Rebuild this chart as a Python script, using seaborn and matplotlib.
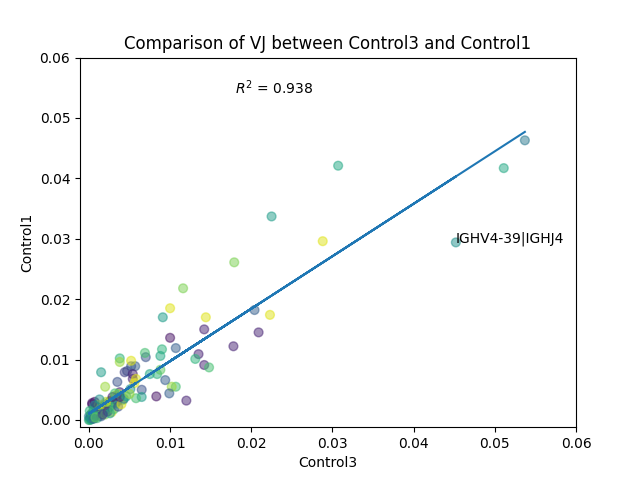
import numpy as np
import pandas as pd
import seaborn as sns
import matplotlib
matplotlib.use("Agg")
import matplotlib.pyplot as plt

# VJ usage frequencies (Control3 on x, Control1 on y)
control3 = [
    0.0537, 0.0511, 0.0307, 0.0225, 0.0288, 0.0452, 0.0179, 0.0116, 0.0204, 0.0223,
    0.0100, 0.0144, 0.0091, 0.0142, 0.0209, 0.0178, 0.0100, 0.0107, 0.0090, 0.0135,
    0.0142, 0.0148, 0.0131, 0.0107, 0.0102, 0.0120, 0.0099, 0.0083, 0.0094, 0.0088,
    0.0070, 0.0069, 0.0075, 0.0084, 0.0088, 0.0065, 0.0065, 0.0052, 0.0057, 0.0052,
    0.0038, 0.0038, 0.0015, 0.0047, 0.0044, 0.0054, 0.0054, 0.0056, 0.0058, 0.0051,
    0.0058, 0.0035, 0.0020, 0.0032, 0.0038, 0.0036, 0.0042, 0.0026, 0.0007, 0.0004,
    0.0014, 0.0023, 0.0028, 0.0016,
    0.0001, 0.0002, 0.0003, 0.0000, 0.0001, 0.0004, 0.0005, 0.0002, 0.0006, 0.0008,
    0.0007, 0.0010, 0.0009, 0.0012, 0.0011, 0.0014, 0.0013, 0.0016, 0.0018, 0.0015,
    0.0020, 0.0022, 0.0019, 0.0025, 0.0024, 0.0028, 0.0030, 0.0027, 0.0033, 0.0035,
    0.0003, 0.0005, 0.0002, 0.0006, 0.0009, 0.0012, 0.0004, 0.0007, 0.0010, 0.0015,
    0.0020, 0.0023, 0.0026, 0.0031, 0.0036, 0.0040, 0.0043, 0.0038, 0.0046, 0.0050,
    0.0000, 0.0001, 0.0003, 0.0006, 0.0008, 0.0017, 0.0021, 0.0013, 0.0029, 0.0032,
]
control1 = [
    0.0463, 0.0417, 0.0421, 0.0337, 0.0296, 0.0294, 0.0261, 0.0218, 0.0182, 0.0174,
    0.0185, 0.0170, 0.0170, 0.0150, 0.0145, 0.0122, 0.0136, 0.0119, 0.0117, 0.0109,
    0.0091, 0.0087, 0.0101, 0.0055, 0.0055, 0.0032, 0.0044, 0.0039, 0.0066, 0.0106,
    0.0104, 0.0111, 0.0076, 0.0076, 0.0083, 0.0050, 0.0038, 0.0089, 0.0089, 0.0098,
    0.0102, 0.0096, 0.0079, 0.0081, 0.0079, 0.0076, 0.0068, 0.0061, 0.0068, 0.0051,
    0.0036, 0.0063, 0.0055, 0.0040, 0.0046, 0.0043, 0.0033, 0.0031, 0.0030, 0.0026,
    0.0021, 0.0018, 0.0013, 0.0010,
    0.0002, 0.0001, 0.0004, 0.0000, 0.0000, 0.0002, 0.0006, 0.0005, 0.0003, 0.0009,
    0.0005, 0.0008, 0.0012, 0.0010, 0.0015, 0.0013, 0.0007, 0.0016, 0.0012, 0.0020,
    0.0018, 0.0023, 0.0026, 0.0021, 0.0028, 0.0025, 0.0029, 0.0032, 0.0027, 0.0031,
    0.0010, 0.0013, 0.0008, 0.0018, 0.0022, 0.0025, 0.0028, 0.0024, 0.0003, 0.0006,
    0.0009, 0.0014, 0.0011, 0.0018, 0.0022, 0.0026, 0.0035, 0.0038, 0.0039, 0.0043,
    0.0006, 0.0015, 0.0001, 0.0002, 0.0004, 0.0009, 0.0030, 0.0034, 0.0038, 0.0044,
]
# colour value per point (viridis)
shade = [
    0.40, 0.60, 0.60, 0.55, 0.95, 0.50, 0.80, 0.80, 0.30, 0.95,
    0.95, 0.95, 0.55, 0.10, 0.10, 0.10, 0.05, 0.30, 0.65, 0.10,
    0.10, 0.70, 0.65, 0.70, 0.85, 0.10, 0.30, 0.05, 0.30, 0.60,
    0.25, 0.70, 0.60, 0.65, 0.75, 0.25, 0.55, 0.25, 0.30, 0.95,
    0.65, 0.85, 0.55, 0.25, 0.20, 0.10, 0.10, 0.95, 0.95, 0.50,
    0.70, 0.25, 0.85, 0.95, 0.10, 0.85, 0.70, 0.25, 0.05, 0.10,
    0.50, 0.95, 0.95, 0.70,
    0.50, 0.60, 0.40, 0.55, 0.70, 0.30, 0.45, 0.65, 0.85, 0.20,
    0.60, 0.35, 0.75, 0.50, 0.15, 0.90, 0.40, 0.60, 0.25, 0.80,
    0.55, 0.10, 0.95, 0.45, 0.30, 0.70, 0.20, 0.85, 0.60, 0.40,
    0.50, 0.75, 0.35, 0.60, 0.20, 0.90, 0.05, 0.45, 0.65, 0.30,
    0.80, 0.15, 0.55, 0.70, 0.25, 0.95, 0.40, 0.10, 0.60, 0.85,
    0.45, 0.65, 0.55, 0.35, 0.75, 0.20, 0.90, 0.50, 0.10, 0.70,
]

label_x, label_y, label_text = 0.0452, 0.0294, "IGHV4-39|IGHJ4"
r2_text = "$R^2$ = 0.938"

df = pd.DataFrame({"Control3": control3, "Control1": control1, "shade": shade})

fig, ax = plt.subplots(figsize=(6.4, 4.8), dpi=100)
sns.scatterplot(data=df, x="Control3", y="Control1", hue="shade", palette="viridis",
                hue_norm=(0, 1), alpha=0.5, s=40, edgecolor="face", linewidth=1,
                legend=False, ax=ax)

m, b = np.polyfit(df["Control3"], df["Control1"], 1)
ax.plot(df["Control3"], m * df["Control3"] + b, color="tab:blue", linewidth=1.5)

ax.text(0.018, 0.054, r2_text)
ax.text(label_x, label_y, label_text)

ax.set_xlim(-0.0011, 0.06)
ax.set_ylim(-0.0012, 0.06)
ax.set_xlabel("Control3")
ax.set_ylabel("Control1")
ax.set_title("Comparison of VJ between Control3 and Control1")

fig.savefig("out.png", dpi=100)
